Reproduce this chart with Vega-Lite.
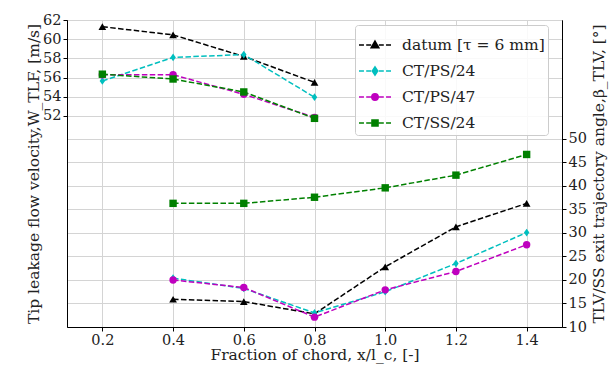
{
  "$schema": "https://vega.github.io/schema/vega-lite/v6.json",
  "width": 495,
  "height": 307,
  "autosize": {"type": "none"},
  "padding": {"left": 67, "top": 20, "right": 54, "bottom": 44},
  "background": "white",
  "datasets": {
    "W": [
      {"series": "datum [τ = 6 mm]", "x": 0.2, "v": 61.3},
      {"series": "datum [τ = 6 mm]", "x": 0.4, "v": 60.45},
      {"series": "datum [τ = 6 mm]", "x": 0.6, "v": 58.2},
      {"series": "datum [τ = 6 mm]", "x": 0.8, "v": 55.5},
      {"series": "CT/PS/24", "x": 0.2, "v": 55.65},
      {"series": "CT/PS/24", "x": 0.4, "v": 58.1},
      {"series": "CT/PS/24", "x": 0.6, "v": 58.4},
      {"series": "CT/PS/24", "x": 0.8, "v": 53.95},
      {"series": "CT/PS/47", "x": 0.2, "v": 56.3},
      {"series": "CT/PS/47", "x": 0.4, "v": 56.3},
      {"series": "CT/PS/47", "x": 0.6, "v": 54.25},
      {"series": "CT/PS/47", "x": 0.8, "v": 51.85},
      {"series": "CT/SS/24", "x": 0.2, "v": 56.35},
      {"series": "CT/SS/24", "x": 0.4, "v": 55.85},
      {"series": "CT/SS/24", "x": 0.6, "v": 54.5},
      {"series": "CT/SS/24", "x": 0.8, "v": 51.75}
    ],
    "B": [
      {"series": "datum [τ = 6 mm]", "x": 0.4, "v": 15.9},
      {"series": "datum [τ = 6 mm]", "x": 0.6, "v": 15.4},
      {"series": "datum [τ = 6 mm]", "x": 0.8, "v": 12.8},
      {"series": "datum [τ = 6 mm]", "x": 1.0, "v": 22.8},
      {"series": "datum [τ = 6 mm]", "x": 1.2, "v": 31.3},
      {"series": "datum [τ = 6 mm]", "x": 1.4, "v": 36.3},
      {"series": "CT/PS/24", "x": 0.4, "v": 20.4},
      {"series": "CT/PS/24", "x": 0.6, "v": 18.2},
      {"series": "CT/PS/24", "x": 0.8, "v": 13.0},
      {"series": "CT/PS/24", "x": 1.0, "v": 17.5},
      {"series": "CT/PS/24", "x": 1.2, "v": 23.5},
      {"series": "CT/PS/24", "x": 1.4, "v": 30.1},
      {"series": "CT/PS/47", "x": 0.4, "v": 20.0},
      {"series": "CT/PS/47", "x": 0.6, "v": 18.4},
      {"series": "CT/PS/47", "x": 0.8, "v": 12.1},
      {"series": "CT/PS/47", "x": 1.0, "v": 17.9},
      {"series": "CT/PS/47", "x": 1.2, "v": 21.8},
      {"series": "CT/PS/47", "x": 1.4, "v": 27.5},
      {"series": "CT/SS/24", "x": 0.4, "v": 36.3},
      {"series": "CT/SS/24", "x": 0.6, "v": 36.3},
      {"series": "CT/SS/24", "x": 0.8, "v": 37.6},
      {"series": "CT/SS/24", "x": 1.0, "v": 39.6},
      {"series": "CT/SS/24", "x": 1.2, "v": 42.3},
      {"series": "CT/SS/24", "x": 1.4, "v": 46.7}
    ]
  },
  "config": {
    "view": {"stroke": "#000000", "strokeWidth": 1},
    "font": "DejaVu Serif",
    "axis": {
      "labelFont": "DejaVu Serif",
      "titleFont": "DejaVu Serif",
      "labelFontSize": 14.5,
      "titleFontSize": 15.5,
      "titleFontWeight": "normal",
      "labelColor": "#222222",
      "titleColor": "#222222",
      "domainColor": "#000000",
      "tickColor": "#000000",
      "tickSize": 4,
      "labelPadding": 2,
      "gridColor": "#d4d4d4",
      "gridWidth": 1
    },
    "legend": {
      "labelFont": "DejaVu Serif",
      "labelFontSize": 15.5,
      "labelColor": "#222222"
    }
  },
  "encoding": {
    "x": {
      "field": "x",
      "type": "quantitative",
      "scale": {"domain": [0.1, 1.5], "nice": false, "zero": false},
      "axis": {
        "title": "Fraction of chord, x/l_c, [-]",
        "values": [0.2, 0.4, 0.6, 0.8, 1.0, 1.2, 1.4],
        "format": ".1f",
        "grid": true,
        "titlePadding": 1
      }
    },
    "color": {
      "field": "series",
      "type": "nominal",
      "sort": ["datum [τ = 6 mm]", "CT/PS/24", "CT/PS/47", "CT/SS/24"],
      "scale": {
        "domain": ["datum [τ = 6 mm]", "CT/PS/24", "CT/PS/47", "CT/SS/24"],
        "range": ["#000000", "#00bfbf", "#bf00bf", "#008000"]
      },
      "legend": {
        "title": null,
        "orient": "none",
        "legendX": 288,
        "legendY": 5,
        "symbolSize": 1024,
        "symbolStrokeWidth": 1.5,
        "labelOffset": 10,
        "rowPadding": -9.5,
        "padding": 3,
        "fillColor": "rgba(255,255,255,0.85)",
        "strokeColor": "#cccccc",
        "cornerRadius": 3,
        "encoding": {
          "symbols": {
            "shape": {"value": {"expr": "datum.value === 'CT/PS/24' ? 'M-1,0H-0.69M-0.55,0H-0.24M0.24,0H0.55M0.69,0H1M0,-0.26L0.17,0L0,0.26L-0.17,0Z' : datum.value === 'CT/PS/47' ? 'M-1,0H-0.69M-0.55,0H-0.24M0.24,0H0.55M0.69,0H1M0.2,0A0.2,0.2 0 1,1 -0.2,0A0.2,0.2 0 1,1 0.2,0Z' : datum.value === 'CT/SS/24' ? 'M-1,0H-0.69M-0.55,0H-0.24M0.24,0H0.55M0.69,0H1M-0.19,-0.19H0.19V0.19H-0.19Z' : 'M-1,0H-0.69M-0.55,0H-0.24M0.24,0H0.55M0.69,0H1M0,-0.25L0.24,0.17L-0.24,0.17Z'"}},
            "fill": {"value": {"expr": "scale('color', datum.value)"}},
            "stroke": {"value": {"expr": "scale('color', datum.value)"}},
            "strokeWidth": {"value": 1.5},
            "opacity": {"value": 1}
          }
        }
      }
    }
  },
  "layer": [
    {
      "data": {"name": "W"},
      "encoding": {
        "y": {
          "field": "v",
          "type": "quantitative",
          "scale": {"domain": [30, 62], "nice": false, "zero": false},
          "axis": {
            "orient": "left",
            "title": "Tip leakage flow velocity,W_TLF, [m/s]",
            "values": [52, 54, 56, 58, 60, 62],
            "grid": true,
            "titlePadding": 1
          }
        }
      },
      "layer": [
        {"mark": {"type": "line", "strokeDash": [5.5, 2.4], "strokeWidth": 1.5}},
        {"transform": [{"filter": {"field": "series", "equal": "datum [τ = 6 mm]"}}],
         "mark": {"type": "point", "filled": true, "opacity": 1, "size": 60, "shape": "triangle-up"}},
        {"transform": [{"filter": {"field": "series", "equal": "CT/PS/24"}}],
         "mark": {"type": "point", "filled": true, "opacity": 1, "size": 60, "shape": "M0,-1L0.7,0L0,1L-0.7,0Z"}},
        {"transform": [{"filter": {"field": "series", "equal": "CT/PS/47"}}],
         "mark": {"type": "point", "filled": true, "opacity": 1, "size": 55, "shape": "circle"}},
        {"transform": [{"filter": {"field": "series", "equal": "CT/SS/24"}}],
         "mark": {"type": "point", "filled": true, "opacity": 1, "size": 55, "shape": "square"}}
      ]
    },
    {
      "data": {"name": "B"},
      "encoding": {
        "y": {
          "field": "v",
          "type": "quantitative",
          "scale": {"domain": [10, 75.3], "nice": false, "zero": false},
          "axis": {
            "orient": "right",
            "title": "TLV/SS exit trajectory angle,β_TLV, [°]",
            "titleAngle": 270,
            "values": [10, 15, 20, 25, 30, 35, 40, 45, 50],
            "grid": true,
            "titlePadding": 20
          }
        }
      },
      "layer": [
        {"mark": {"type": "line", "strokeDash": [5.5, 2.4], "strokeWidth": 1.5}},
        {"transform": [{"filter": {"field": "series", "equal": "datum [τ = 6 mm]"}}],
         "mark": {"type": "point", "filled": true, "opacity": 1, "size": 60, "shape": "triangle-up"}},
        {"transform": [{"filter": {"field": "series", "equal": "CT/PS/24"}}],
         "mark": {"type": "point", "filled": true, "opacity": 1, "size": 60, "shape": "M0,-1L0.7,0L0,1L-0.7,0Z"}},
        {"transform": [{"filter": {"field": "series", "equal": "CT/PS/47"}}],
         "mark": {"type": "point", "filled": true, "opacity": 1, "size": 55, "shape": "circle"}},
        {"transform": [{"filter": {"field": "series", "equal": "CT/SS/24"}}],
         "mark": {"type": "point", "filled": true, "opacity": 1, "size": 55, "shape": "square"}}
      ]
    }
  ],
  "resolve": {"scale": {"y": "independent"}}
}
